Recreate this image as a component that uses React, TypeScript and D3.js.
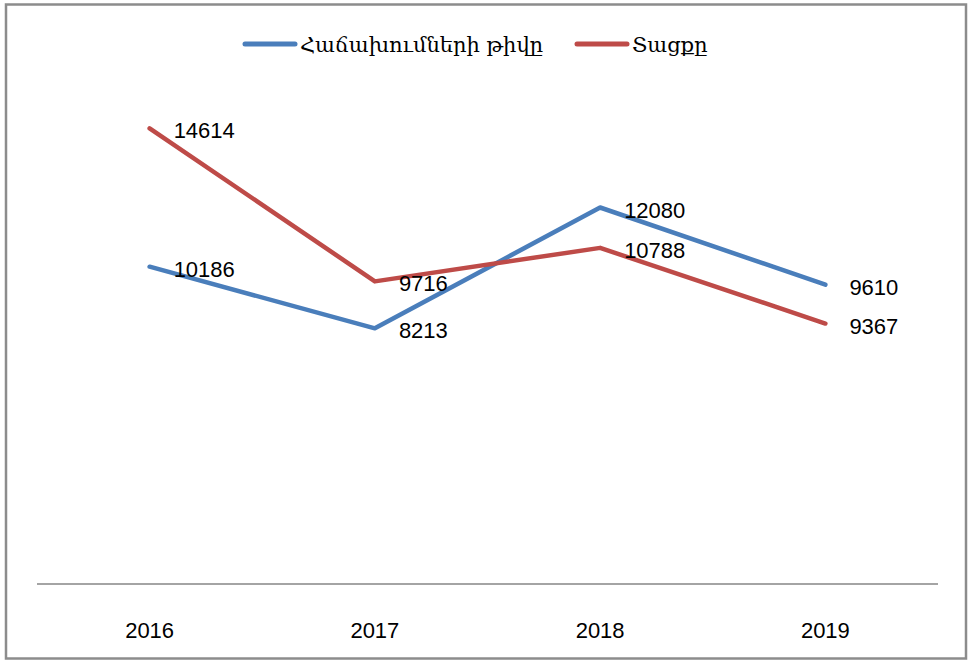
import { useEffect, useRef } from 'react';
import * as d3 from 'd3';

const years = ['2016', '2017', '2018', '2019'];
const visits = [10186, 8213, 12080, 9610];
// last point sits lower in the picture than its label says (label 9367, plotted ~8367)
const cases = [14614, 9716, 10788, 8367];
const visitsLabels = ['10186', '8213', '12080', '9610'];
const casesLabels = ['14614', '9716', '10788', '9367'];
const seriesNames = ['Հաճախումների թիվը', 'Տացքը'];
const seriesColors = ['#4a7ebb', '#be4b48'];

const App = () => {
    const svgRef = useRef<SVGSVGElement | null>(null);

    useEffect(() => {
        if (!svgRef.current) return;
        const svg = d3.select(svgRef.current);
        svg.selectAll('*').remove();

        // outer frame
        svg.append('rect')
            .attr('x', 6)
            .attr('y', 4.5)
            .attr('width', 960)
            .attr('height', 654)
            .attr('fill', 'white')
            .attr('stroke', '#8c8c8c')
            .attr('stroke-width', 2.5);

        const xScale = d3.scaleBand()
            .domain(years)
            .range([37, 938]);

        const yScale = d3.scaleLinear()
            .domain([0, 16000])
            .range([585, 85]);

        const cx = (y: string) => (xScale(y) as number) + xScale.bandwidth() / 2;

        // category axis line
        svg.append('line')
            .attr('x1', 37)
            .attr('x2', 938)
            .attr('y1', yScale(0) - 1)
            .attr('y2', yScale(0) - 1)
            .attr('stroke', '#868686')
            .attr('stroke-width', 1.5);

        svg.append('g')
            .selectAll('text')
            .data(years)
            .join('text')
            .attr('x', d => cx(d))
            .attr('y', 638)
            .attr('text-anchor', 'middle')
            .attr('font-family', 'Liberation Sans, Arial, sans-serif')
            .attr('font-size', 22)
            .attr('fill', '#000')
            .text(d => d);

        const line = d3.line<number>()
            .x((_, i) => cx(years[i]))
            .y(d => yScale(d));

        const allSeries = [visits, cases];
        const allLabels = [visitsLabels, casesLabels];

        allSeries.forEach((vals, si) => {
            svg.append('path')
                .datum(vals)
                .attr('d', line)
                .attr('fill', 'none')
                .attr('stroke', seriesColors[si])
                .attr('stroke-width', 4.5)
                .attr('stroke-linejoin', 'round')
                .attr('stroke-linecap', 'round');
        });

        // data labels
        allSeries.forEach((vals, si) => {
            svg.append('g')
                .selectAll('text')
                .data(vals)
                .join('text')
                .attr('x', (_, i) => cx(years[i]) + 24)
                .attr('y', d => yScale(d) + 10)
                .attr('font-family', 'Liberation Sans, Arial, sans-serif')
                .attr('font-size', 22)
                .attr('fill', '#000')
                .text((_, i) => allLabels[si][i]);
        });

        // legend
        const legendX = [245, 577];
        const legend = svg.append('g')
            .selectAll('g')
            .data(seriesNames)
            .join('g')
            .attr('transform', (_, i) => `translate(${legendX[i]},44)`);

        legend.append('line')
            .attr('x1', 0)
            .attr('x2', 50)
            .attr('stroke', (_, i) => seriesColors[i])
            .attr('stroke-width', 5)
            .attr('stroke-linecap', 'round');

        legend.append('text')
            .attr('x', 55)
            .attr('y', 8)
            .attr('font-family', 'DejaVu Serif, serif')
            .attr('font-size', 21)
            .attr('fill', '#000')
            .text(d => d);
    }, []);

    return (
        <svg
            ref={svgRef}
            width={971}
            height={662}
            style={{ position: 'absolute', left: 0, top: 0 }}
        />
    );
};

export default App;
